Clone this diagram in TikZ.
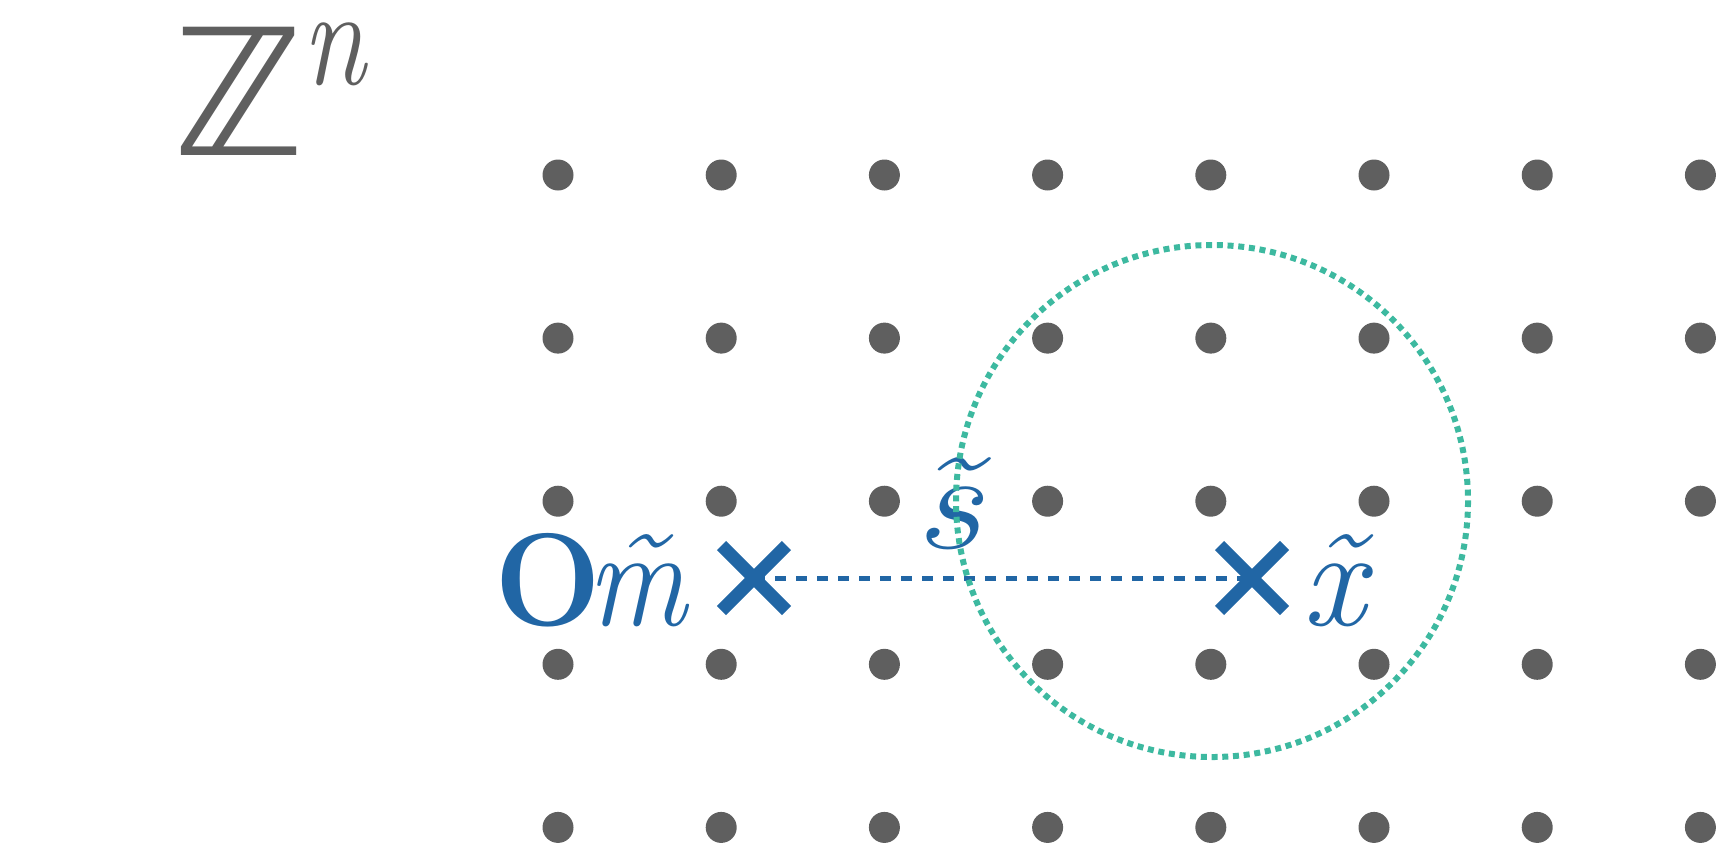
\documentclass[tikz,border=0pt]{standalone}
\usepackage{fontspec}
\usepackage{graphicx}
\newfontfamily\dejavu{DejaVu Sans}
\usetikzlibrary{shapes.misc}
\definecolor{dotgray}{HTML}{5F5F5F}
\definecolor{myblue}{HTML}{2166A5}
\definecolor{myteal}{HTML}{3DB9A0}
\tikzset{
  latdot/.style={fill=dotgray},
  crossmark/.style={cross out, draw=myblue, line width=6.5pt, minimum size=26pt, inner sep=0pt},
  bluelabel/.style={anchor=base west, inner sep=0pt, text=myblue},
  graylabel/.style={anchor=base west, inner sep=0pt, text=dotgray},
  dashline/.style={draw=myblue, line width=2.5pt, dash pattern=on 5.3pt off 5.2pt},
  ballline/.style={draw=myteal, line width=3pt, dash pattern=on 3pt off 2.36pt}
}
\begin{document}
\begin{tikzpicture}[x=0.5pt,y=-0.5pt]
\useasboundingbox (0,0) rectangle (1716,848);
\clip (0,0) rectangle (1716,848);
% lattice
\foreach \i in {0,...,7}{
  \foreach \j in {0,...,4}{
    \fill[latdot] (558+163.2*\i,175+163.1*\j) circle[radius=15.5];
  }
}
% label Z^n
\node[graylabel, font=\dejavu\fontsize{88}{88}\selectfont] (Z) at (173,155) {ℤ};
\node[graylabel, font=\fontsize{70}{70}\selectfont\itshape] (n) at (302,84) {\scalebox{0.82}[1]{n}};
% crosses
\node[crossmark] (A) at (754,578) {};
\node[crossmark] (B) at (1252,578) {};
\draw[dashline] (A.center) -- (B.center);
% labels
\node[bluelabel, font=\fontsize{70}{70}\selectfont] (O) at (494,625)
  {{\fontsize{66}{66}\selectfont\bfseries\scalebox{0.96}[1]{O}}\kern-7pt{\itshape\makebox[0pt][l]{\hspace{4.2pt}˜}\scalebox{0.886}[1]{m}}};
\node[bluelabel, font=\fontsize{70}{70}\selectfont\itshape] (s) at (914,548) {\scalebox{1.2}[1]{\~s}};
\node[bluelabel, font=\fontsize{70}{70}\selectfont\itshape] (x) at (1302,625) {\~x};
% ball
\draw[ballline] (1212,501) circle[radius=256];
\end{tikzpicture}
\end{document}
